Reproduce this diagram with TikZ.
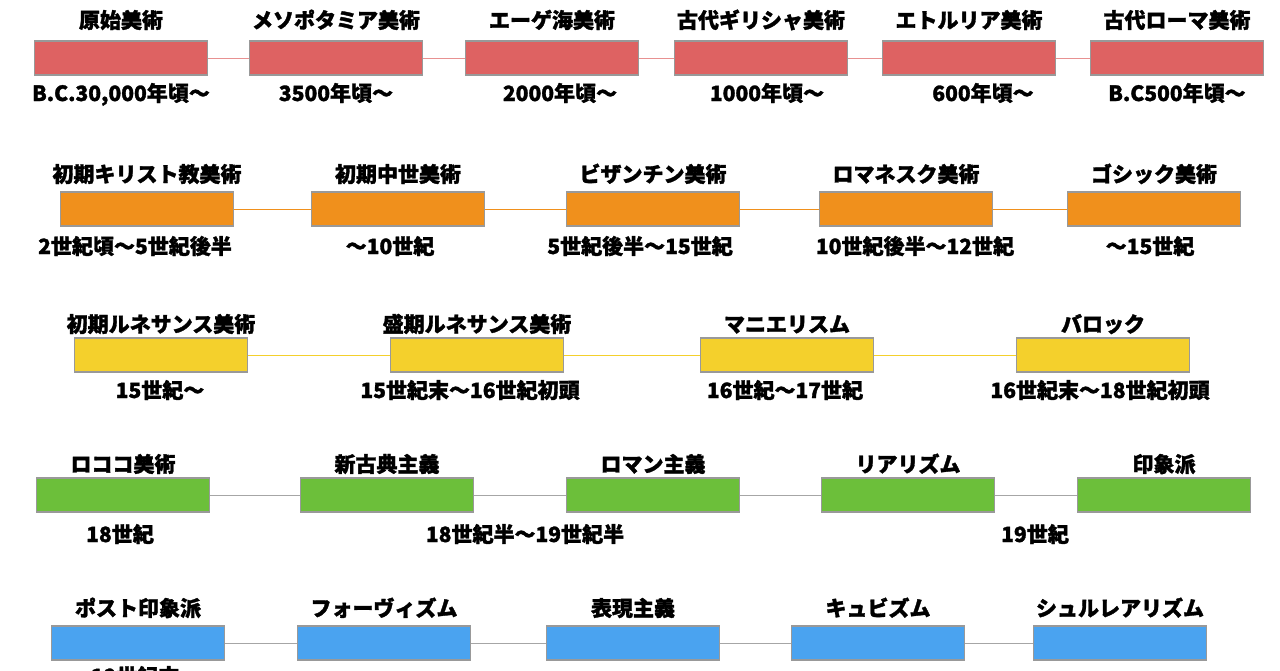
\documentclass[tikz,border=0pt]{standalone}
\usepackage{fontspec}
\setmainfont{Noto Sans CJK JP}[FakeBold=1.5]
\begin{document}
\begin{tikzpicture}[x=1pt,y=-1pt,
 bx/.style={draw=gray!80, line width=1.2pt, minimum width=173pt, minimum height=34pt, inner sep=0pt},
 tl/.style={font=\fontsize{21}{21}\selectfont\bfseries, anchor=base},
 ln/.style={line width=1pt}]
\useasboundingbox (0,0) rectangle (1280,670);
\clip (0,0) rectangle (1280,670);
\definecolor{cr}{HTML}{DE6262}\definecolor{co}{HTML}{F0901C}\definecolor{cy}{HTML}{F4D02C}
\definecolor{cg}{HTML}{6CBF3A}\definecolor{cb}{HTML}{4AA3F0}
% row 1
\foreach \n/\x/\t in {a1/121/原始美術,a2/336/メソポタミア美術,a3/552/エーゲ海美術,a4/761/古代ギリシャ美術,a5/969/エトルリア美術,a6/1177/古代ローマ美術}{
 \node[bx,fill=cr] (\n) at (\x,58) {};
 \node[tl] at (\x,28) {\t};}
\foreach \a/\b in {a1/a2,a2/a3,a3/a4,a4/a5,a5/a6}\draw[ln,cr!70] (\a)--(\b);
\foreach \x/\t in {121/{B.C.30,000年頃〜},336/3500年頃〜,560/2000年頃〜,767/1000年頃〜,983/600年頃〜,1177/B.C500年頃〜}\node[tl] at (\x,101) {\t};
% row 2
\foreach \n/\x/\t in {b1/147/初期キリスト教美術,b2/398/初期中世美術,b3/653/ビザンチン美術,b4/906/ロマネスク美術,b5/1154/ゴシック美術}{
 \node[bx,fill=co] (\n) at (\x,209) {};
 \node[tl] at (\x,182) {\t};}
\foreach \a/\b in {b1/b2,b2/b3,b3/b4,b4/b5}\draw[ln,co] (\a)--(\b);
\foreach \x/\t in {135/2世紀頃〜5世紀後半,390/〜10世紀,640/5世紀後半〜15世紀,915/10世紀後半〜12世紀,1150/〜15世紀}\node[tl] at (\x,254) {\t};
% row 3
\foreach \n/\x/\t in {c1/161/初期ルネサンス美術,c2/477/盛期ルネサンス美術,c3/787/マニエリスム,c4/1103/バロック}{
 \node[bx,fill=cy] (\n) at (\x,355) {};
 \node[tl] at (\x,332) {\t};}
\foreach \a/\b in {c1/c2,c2/c3,c3/c4}\draw[ln,cy] (\a)--(\b);
\foreach \x/\t in {160/15世紀〜,470/15世紀末〜16世紀初頭,785/16世紀〜17世紀,1100/16世紀末〜18世紀初頭}\node[tl] at (\x,398) {\t};
% row 4
\foreach \n/\x/\t in {d1/123/ロココ美術,d2/387/新古典主義,d3/653/ロマン主義,d4/908/リアリズム,d5/1164/印象派}{
 \node[bx,fill=cg] (\n) at (\x,495) {};
 \node[tl] at (\x,472) {\t};}
\foreach \a/\b in {d1/d2,d2/d3,d3/d4,d4/d5}\draw[ln,gray!70] (\a)--(\b);
\foreach \x/\t in {120/18世紀,525/18世紀半〜19世紀半,1035/19世紀}\node[tl] at (\x,542) {\t};
% row 5
\foreach \n/\x/\t in {e1/138/ポスト印象派,e2/384/フォーヴィズム,e3/633/表現主義,e4/878/キュビズム,e5/1120/シュルレアリズム}{
 \node[bx,fill=cb] (\n) at (\x,643) {};
 \node[tl] at (\x,616) {\t};}
\foreach \a/\b in {e1/e2,e2/e3,e3/e4,e4/e5}\draw[ln,gray!70] (\a)--(\b);
\node[tl] at (135,684) {19世紀末};
\end{tikzpicture}
\end{document}
